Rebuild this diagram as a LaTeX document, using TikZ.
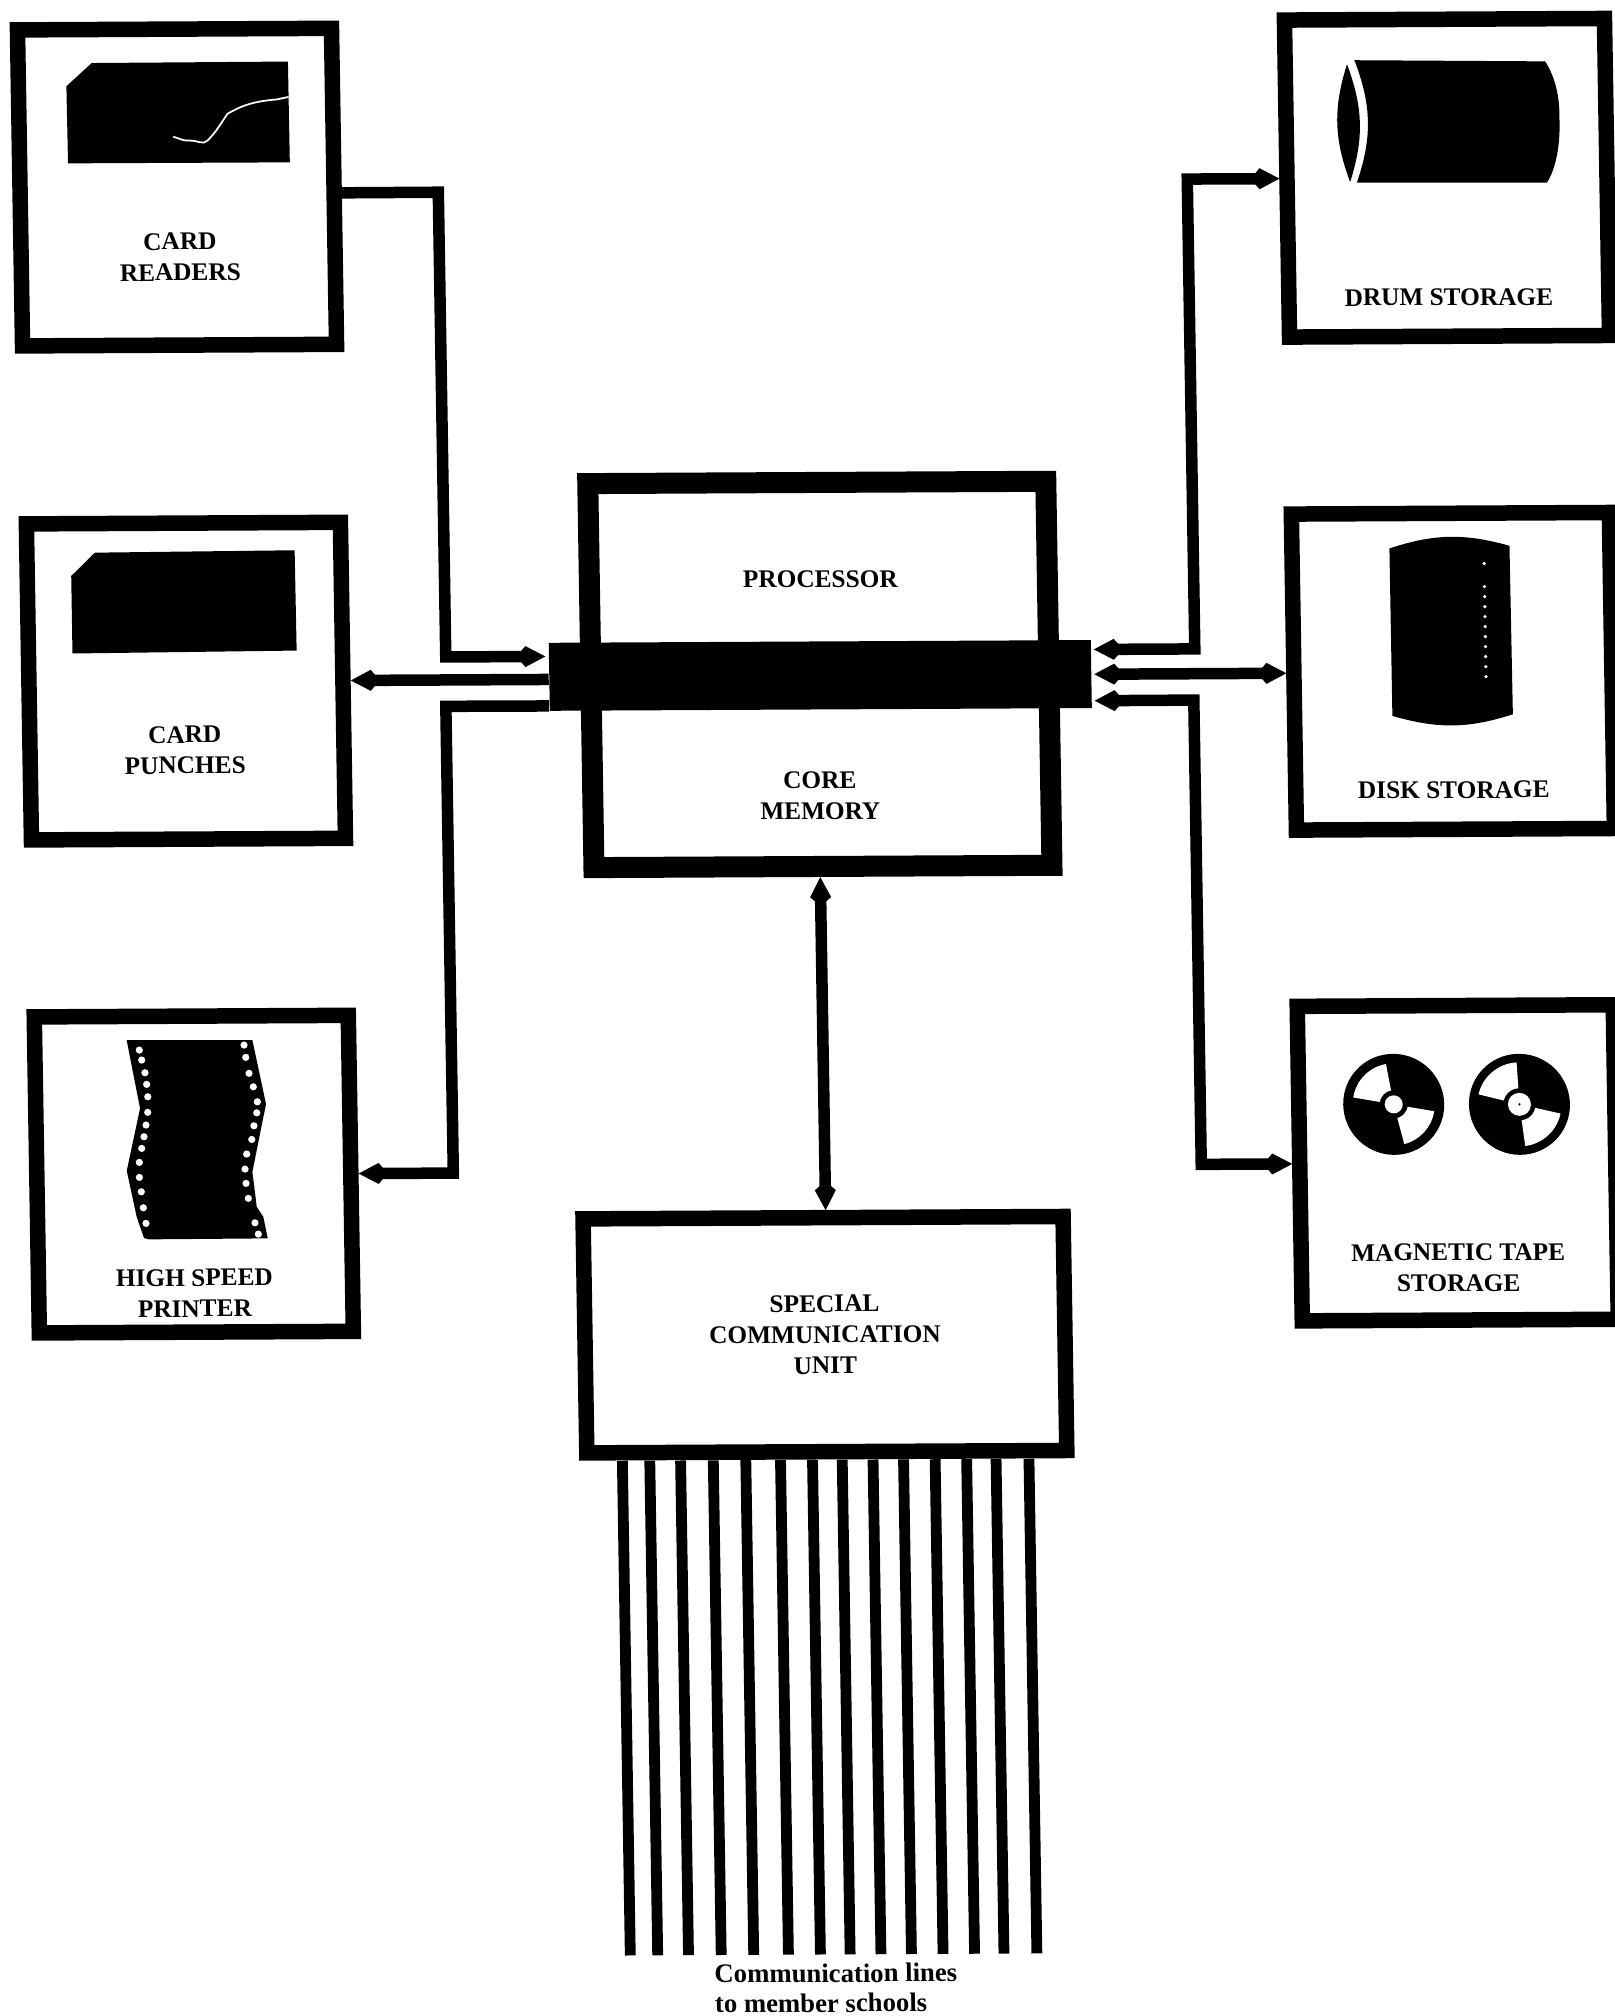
\documentclass[tikz,border=0pt]{standalone}
\usepackage{fontspec}
\setmainfont{Liberation Serif}
\usetikzlibrary{arrows.meta}
\tikzset{
	box/.style = {draw, line width = .155cm, minimum width = 3.14cm, minimum height = 3.16cm},
	lbl/.style = {font = \fontsize{7.2}{8.8}\selectfont\bfseries, align = center, inner sep = 0pt},
	wire/.style = {line width = .115cm},
	feedline/.style = {line width = .108cm}
}
\begin{document}
\begin{tikzpicture}[>={Kite[length=.29cm, width=.21cm, inset=.09cm]}]
	\useasboundingbox (0, 0) rectangle (16.15, -20.16);
	\begin{scope}[cm={1, 0.005, -0.016, 1, (0, 0)}, transform shape]
		% left
		\node [box] (readers) at (1.74, -1.88) {};
		\node [box] (punches) at (1.75, -6.82) {};
		\node [box] (printer) at (1.75, -11.75) {};
		\node [lbl] (readerstxt) at (1.76, -2.58) {CARD\\READERS};
		\node [lbl] (punchestxt) at (1.73, -7.51) {CARD\\PUNCHES};
		\node [lbl] (printertxt) at (1.74, -12.94) {HIGH SPEED\\PRINTER};
		
		\fill (.65, -.866) -- (.907, -.635) -- (2.869, -.63) -- (2.872, -1.638) -- (.654, -1.637) -- cycle;
		\draw [white, line width = .5pt] (1.71, -1.376) to [out=-15, in=185] (1.875, -1.415) to [out=5, in=225] (2.053, -1.416) to [out=45, in=235] (2.256, -1.15) to [out=30, in=185] (2.752, -1.008) -- (2.87, -.984);
		\fill (.62, -5.763) -- (.86, -5.531) -- (2.858, -5.517) -- (2.862, -6.52) -- (.62, -6.538) -- cycle;
		\fill (1.1, -10.406) -- (2.357, -10.413) -- (2.483, -11.053) -- (2.336, -11.73) -- (2.374, -12.08) -- (2.438, -12.18) -- (2.479, -12.396) -- (1.292, -12.4) -- (1.242, -12.387) -- (1.172, -12.174) -- (1.08, -11.713) -- (1.223, -11.09) -- cycle;
		\foreach \x/\y in {1.225/10.507, 1.247/10.607, 1.278/10.734, 1.293/10.85, 1.302/10.974, 1.299/11.13, 1.28/11.257, 1.258/11.374, 1.233/11.49, 1.207/11.63, 1.205/11.78, 1.222/11.924, 1.24/12.084, 1.264/12.24,
			2.273/10.462, 2.288/10.585, 2.318/10.745, 2.359/10.88, 2.397/11.03, 2.389/11.14, 2.359/11.27, 2.335/11.406, 2.282/11.552, 2.263/11.702, 2.271/11.845, 2.291/11.995, 2.354/12.24, 2.386/12.353}
			\fill [white] (\x, -\y) circle (.036);
		
		% right
		\node [box, minimum width = 3.2cm, minimum height = 3.17cm] (drum) at (14.44, -1.85) {};
		\node [box, minimum width = 3.18cm] (disk) at (14.42, -6.785) {};
		\node [box, minimum width = 3.16cm, minimum height = 3.145cm] (tape) at (14.39, -11.7) {};
		\node [lbl] (drumtxt) at (14.44, -3.045) {DRUM STORAGE};
		\node [lbl] (disktxt) at (14.41, -7.972) {DISK STORAGE};
		\node [lbl] (tapetxt) at (14.38, -12.75) {MAGNETIC TAPE\\STORAGE};
		
		\fill (13.457, -.714) to [bend right=19] (13.471, -1.888) to [bend right=19] cycle;
		\fill (13.53, -.67) -- (15.44, -.691) .. controls (15.54, -.85) and (15.58, -1.05) .. (15.574, -1.258) .. controls (15.58, -1.5) and (15.54, -1.75) .. (15.438, -1.904) -- (13.538, -1.895) to [bend right=20] cycle;
		\fill (13.805, -5.554) to [bend left=17] (15.006, -5.533) -- (15.013, -7.218) to [bend left=17] (13.808, -7.228) -- cycle;
		\foreach \y in {5.71, 5.94, 6.04, 6.14, 6.24, 6.34, 6.44, 6.54, 6.64, 6.74, 6.84}
			\fill [white] (14.75, -\y) circle (.018);
		
		\coordinate (reelA) at (13.756, -11.11);
		\coordinate (reelB) at (15.013, -11.116);
		\fill (reelA) circle (.505);
		\fill (reelB) circle (.505);
		\fill [white] (reelA) -- ++(100: .41) arc (100: 170: .41) -- cycle;
		\fill [white] (reelA) -- ++(-76: .41) arc (-76: -10: .41) -- cycle;
		\fill [white] (reelB) -- ++(93: .42) arc (93: 166: .42) -- cycle;
		\fill [white] (reelB) -- ++(-83: .42) arc (-83: -13: .42) -- cycle;
		\fill (reelA) circle (.14);
		\fill (reelB) circle (.16);
		\fill [white] (reelA) circle (.09);
		\fill [white] (reelB) circle (.115);
		\fill (reelB) circle (.012);
		
		% main
		\node [box, line width = .21cm, minimum width = 4.58cm, minimum height = 3.84cm] (cpu) at (8.09, -6.785) {};
		\node [fill, minimum width = 5.42cm, minimum height = .68cm, inner sep = 0pt] (bus) at (8.094, -6.795) {};
		\node [lbl] (cputxt) at (8.11, -5.834) {PROCESSOR};
		\node [lbl] (memtxt) at (8.073, -8.0) {CORE\\MEMORY};
		
		% bottom
		\node [box, minimum width = 4.8cm, minimum height = 2.34cm, lbl, inner sep = 0pt] (comm) at (8.035, -13.387) {SPECIAL\\COMMUNICATION\\UNIT};
		\foreach \x [count=\i] in {5.988, 6.262, 6.57, 6.897, 7.222, 7.569, 7.889, 8.186, 8.494, 8.799, 9.115, 9.43, 9.724, 10.053} {
			\coordinate (feed\i) at (\x, -19.58);
			\draw [feedline] (feed\i |- comm.south) -- (feed\i);
		}
		\node [lbl, align = left, font = \fontsize{7.6}{8.5}\selectfont\bfseries] (commtxt) at (8.042, -19.92) {Communication lines\\to member schools};
		
		% connectors
		\coordinate (memlink) at (8.06, -10);
		\draw [wire, ->] ([yshift=-.065cm]readers.east) -- (4.352, -1.944) |- ([xshift=-.03cm, yshift=.205cm]bus.west);
		\draw [wire, ->] (bus.west |- punches.east) -- (punches.east);
		\draw [wire, ->] ([yshift=-.29cm]bus.west) -- (4.345, -7.085) |- (printer.east);
		\draw [wire, <->] (drum.west) -- (11.843, -1.85) |- ([xshift=.02cm, yshift=.248cm]bus.east);
		\draw [wire, <->] ([xshift=.02cm]bus.east) -- (bus.east -| disk.west);
		\draw [wire, <->] ([xshift=.02cm, yshift=-.265cm]bus.east) -- (11.825, -7.06) |- (tape.west);
		\draw [wire, <->] (memlink |- cpu.south) -- (memlink |- comm.north);
	\end{scope}
\end{tikzpicture}
\end{document}
